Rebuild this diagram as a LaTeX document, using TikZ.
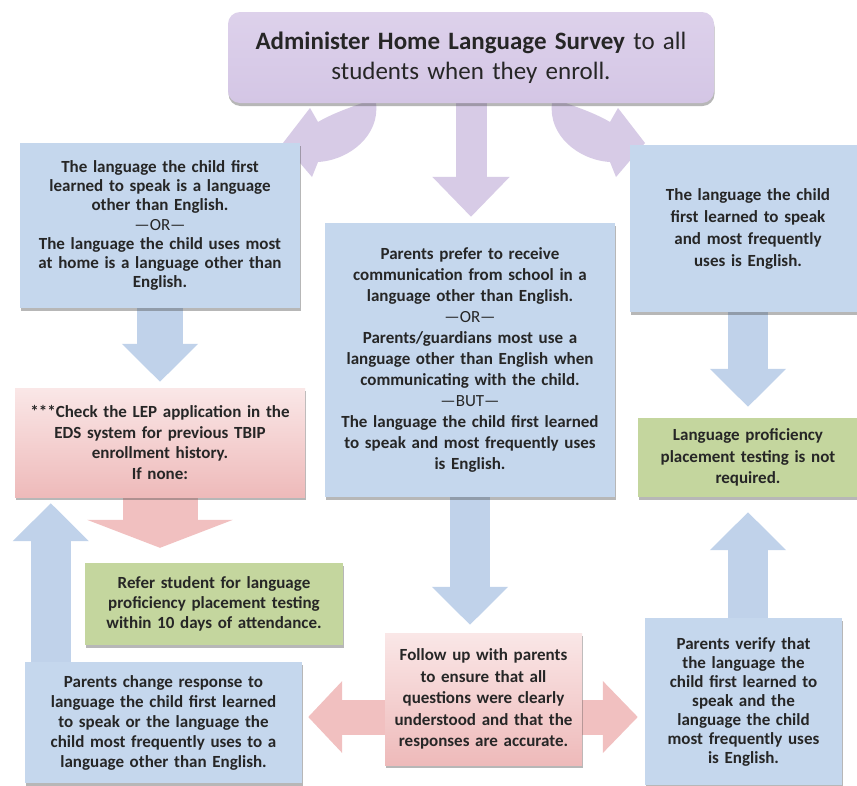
\documentclass[tikz,border=0pt]{standalone}
\usepackage{fontspec}
\setmainfont{Carlito}
\usetikzlibrary{arrows.meta,shadows,backgrounds}

\definecolor{survtop}{RGB}{221,209,235}
\definecolor{survmid}{RGB}{238,233,246}
\definecolor{survbot}{RGB}{212,198,229}
\definecolor{boxblue}{RGB}{197,215,237}
\definecolor{boxgreen}{RGB}{196,214,158}
\definecolor{pinktop}{RGB}{250,231,231}
\definecolor{pinkbot}{RGB}{238,186,186}
\definecolor{arrowblue}{RGB}{192,210,234}
\definecolor{arrowpink}{RGB}{241,192,192}
\definecolor{arrowpurple}{RGB}{215,203,230}

\begin{document}
\begin{tikzpicture}[x=1pt, y=-1pt,
    panel/.style={inner sep=0pt, align=center, text=black!85,
        font=\bfseries\fontsize{17}{21}\selectfont,
        drop shadow={shadow xshift=0.5pt, shadow yshift=-3pt, opacity=0.4, fill=black!70}},
    bluebox/.style={panel, fill=boxblue},
    greenbox/.style={panel, fill=boxgreen},
    pinkbox/.style={panel, top color=pinktop, bottom color=pinkbot},
    bluearrow/.style={arrowblue, line width=40pt, -{Triangle[width=74pt,length=38pt]}},
    pinkarrow/.style={arrowpink, line width=75pt, -{Triangle[width=145pt,length=28pt]}},
    purplearrow/.style={arrowpurple, line width=31pt, -{Triangle[width=75pt,length=40pt]}}]

\useasboundingbox (0,0) rectangle (857,785);

% 1. Survey box at the top
\node[panel, rounded corners=12pt, top color=survtop, middle color=survmid, bottom color=survbot,
      font=\fontsize{25}{30}\selectfont, minimum width=486pt, minimum height=91pt, text width=486pt]
    (survey) at (471,57.5) {{\bfseries Administer Home Language Survey} to all\\students when they enroll.};

% 2. First row of answers
\node[bluebox, font=\bfseries\fontsize{17}{19.2}\selectfont, minimum width=280pt, minimum height=165pt, text width=280pt]
    (otherlang) at (160,225.5) {The language the child first\\learned to speak is a language\\other than English.\\{\mdseries —OR—}\\The language the child uses most\\at home is a language other than\\English.};
\node[bluebox, minimum width=290pt, minimum height=274pt, text width=290pt]
    (prefer) at (470,360) {Parents prefer to receive\\communication from school in a\\language other than English.\\{\mdseries —OR—}\\Parents/guardians most use a\\language other than English when\\communicating with the child.\\{\mdseries —BUT—}\\The language the child first learned\\to speak and most frequently uses\\is English.};
\node[bluebox, font=\bfseries\fontsize{17}{22}\selectfont, minimum width=236pt, minimum height=167pt, text width=236pt]
    (english) at (748,228.5) {The language the child\\first learned to speak\\and most frequently\\uses is English.};

% 3. Checks and results
\node[pinkbox, font=\bfseries\fontsize{17}{20.5}\selectfont, minimum width=290pt, minimum height=109pt, text width=290pt]
    (check) at (160,442.5) {***Check the LEP application in the\\EDS system for previous TBIP\\enrollment history.\\If none:};
\node[greenbox, font=\bfseries\fontsize{17}{20}\selectfont, minimum width=258pt, minimum height=82pt, text width=258pt]
    (refer) at (214,604) {Refer student for language\\proficiency placement testing\\within 10 days of attendance.};
\node[greenbox, font=\bfseries\fontsize{17}{21.5}\selectfont, minimum width=220pt, minimum height=79pt, text width=220pt]
    (notreq) at (748,457.5) {Language proficiency\\placement testing is not\\required.};

% 4. Bottom row
\node[bluebox, font=\bfseries\fontsize{17}{20}\selectfont, minimum width=277pt, minimum height=121pt, text width=277pt]
    (change) at (163.5,722.5) {Parents change response to\\language the child first learned\\to speak or the language the\\child most frequently uses to a\\language other than English.};
\node[pinkbox, font=\bfseries\fontsize{17}{21.5}\selectfont, minimum width=197pt, minimum height=132pt, text width=197pt]
    (follow) at (483.5,699) {Follow up with parents\\to ensure that all\\questions were clearly\\understood and that the\\responses are accurate.};
\node[bluebox, font=\bfseries\fontsize{17}{19}\selectfont, minimum width=197pt, minimum height=167pt, text width=197pt]
    (verify) at (743.5,701.5) {Parents verify that\\the language the\\child first learned to\\speak and the\\language the child\\most frequently uses\\is English.};

% 5. Block arrows behind the boxes
\coordinate (upleft) at ([xshift=36pt,yshift=-6pt]check.south west);
\coordinate (mid) at (470,717);
\begin{pgfonlayer}{background}
\fill[white] (0,0) rectangle (857,785);
% curved arrows out of the survey box
\fill[arrowpurple] (376,103) .. controls (380,135) and (350,160) .. (318,162)
    -- (312,177) -- (283,143) -- (310,108) -- (318,122)
    .. controls (335,112) and (355,106) .. (370,100) -- cycle;
\fill[arrowpurple] (552,103) .. controls (548,135) and (578,160) .. (610,162)
    -- (616,177) -- (645,143) -- (618,108) -- (610,122)
    .. controls (593,112) and (573,106) .. (558,100) -- cycle;
\draw[purplearrow] (survey.south) -- ([yshift=6pt]survey.south |- prefer.north);
% straight arrows
\draw[bluearrow, line width=46pt] (otherlang.south) -- ([yshift=6pt]check.north);
\draw[bluearrow] (prefer.south) -- ([yshift=8pt]prefer.south |- follow.north);
\draw[bluearrow] (english.south) -- ([yshift=11pt]notreq.north);
\draw[bluearrow] (verify.north -| notreq.south) -- ([yshift=-15pt]notreq.south);
\draw[bluearrow] (change.north -| upleft) -- (upleft);
\draw[pinkarrow] (check.south) -- ([yshift=15pt]refer.north -| check.south);
\draw[arrowpink, line width=35pt, shorten <=6pt, shorten >=7pt,
      {Triangle[width=70pt,length=34pt]}-{Triangle[width=70pt,length=35pt]}]
    (change.east |- mid) -- (verify.west |- mid);
\end{pgfonlayer}

\end{tikzpicture}
\end{document}
